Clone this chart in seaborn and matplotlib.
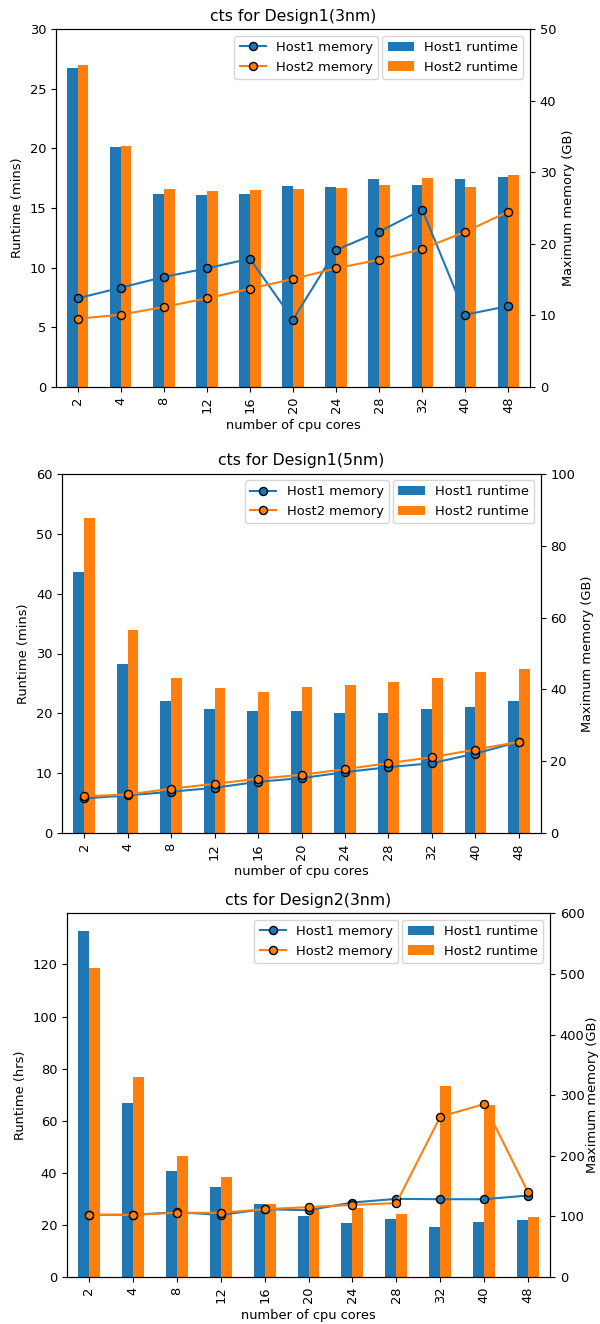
import matplotlib
matplotlib.use("Agg")
import matplotlib.pyplot as plt
import seaborn as sns
import pandas as pd
import numpy as np

cores = ["2", "4", "8", "12", "16", "20", "24", "28", "32", "40", "48"]

# Design1 (3nm)
d1_3_host1_runtime = [26.76, 20.10, 16.20, 16.12, 16.20, 16.85, 16.76, 17.41, 16.93, 17.41, 17.63]
d1_3_host2_runtime = [26.98, 20.18, 16.60, 16.43, 16.51, 16.60, 16.68, 16.93, 17.49, 16.76, 17.74]
d1_3_host1_memory = [12.36, 13.85, 15.35, 16.56, 17.91, 9.38, 19.12, 21.69, 24.77, 10.07, 11.29]
d1_3_host2_memory = [9.51, 10.07, 11.15, 12.36, 13.71, 15.07, 16.56, 17.77, 19.26, 21.69, 24.49]

# Design1 (5nm)
d1_5_host1_runtime = [43.65, 28.29, 22.13, 20.69, 20.35, 20.35, 20.02, 20.02, 20.69, 21.13, 22.13]
d1_5_host2_runtime = [52.69, 33.94, 25.85, 24.24, 23.57, 24.40, 24.74, 25.24, 25.85, 26.84, 27.45]
d1_5_host1_memory = [9.70, 10.54, 11.55, 12.66, 14.33, 15.34, 17.01, 18.39, 19.50, 22.18, 25.42]
d1_5_host2_memory = [10.26, 10.81, 12.38, 13.77, 15.16, 16.27, 17.84, 19.50, 21.16, 23.29, 25.42]

# Design2 (3nm)
d2_3_host1_runtime = [133.0, 67.0, 40.6, 34.6, 28.1, 23.6, 20.6, 22.1, 19.1, 21.1, 21.7]
d2_3_host2_runtime = [118.6, 76.7, 46.6, 38.3, 28.1, 26.0, 26.6, 24.0, 73.3, 66.1, 23.1]
d2_3_host1_memory = [102.6, 102.6, 106.9, 102.6, 111.9, 110.2, 122.9, 128.9, 128.3, 128.3, 134.4]
d2_3_host2_memory = [102.6, 102.6, 105.9, 105.9, 111.9, 115.2, 119.0, 121.8, 264.4, 285.2, 139.9]

titles = ["cts for Design1(3nm)", "cts for Design1(5nm)", "cts for Design2(3nm)"]
ylabels = ["Runtime (mins)", "Runtime (mins)", "Runtime (hrs)"]
left_lims = [(0, 30), (0, 60), None]
right_lims = [(0, 50), (0, 100), (0, 600)]

panels = [
    (d1_3_host1_runtime, d1_3_host2_runtime, d1_3_host1_memory, d1_3_host2_memory),
    (d1_5_host1_runtime, d1_5_host2_runtime, d1_5_host1_memory, d1_5_host2_memory),
    (d2_3_host1_runtime, d2_3_host2_runtime, d2_3_host1_memory, d2_3_host2_memory),
]

# axes boxes in pixels: left, top, right, bottom
boxes = [(56, 29.3, 530, 386.7), (62.3, 473.7, 540.7, 833.3), (67, 913.3, 550, 1277)]
right_labelpads = [4.0, 4.0, 1.0]

W, H = 600, 1324
plt.rcParams["font.size"] = 9.4
blue, orange = "#1f77b4", "#ff7f0e"

fig = plt.figure(figsize=(W / 100, H / 100), dpi=100)

for i, (h1r, h2r, h1m, h2m) in enumerate(panels):
    l, t, r, b = boxes[i]
    ax = fig.add_axes([l / W, 1 - b / H, (r - l) / W, (b - t) / H])
    df = pd.DataFrame({
        "cores": cores * 2,
        "runtime": list(h1r) + list(h2r),
        "series": ["Host1 runtime"] * len(cores) + ["Host2 runtime"] * len(cores),
    })
    sns.barplot(data=df, x="cores", y="runtime", hue="series", order=cores,
                palette=[blue, orange], saturation=1, width=0.5, errorbar=None,
                linewidth=0, ax=ax)
    if ax.get_legend() is not None:
        ax.get_legend().remove()
    ax.set_xlim(-0.5, len(cores) - 0.5)
    if left_lims[i] is not None:
        ax.set_ylim(*left_lims[i])
    ax.set_xlabel("number of cpu cores")
    ax.set_ylabel(ylabels[i])
    ax.set_title(titles[i], fontsize=11.3)
    ax.tick_params(axis="x", labelrotation=90)

    ax2 = ax.twinx()
    pos = np.arange(len(cores))
    sns.lineplot(x=pos, y=h1m, ax=ax2, color=blue, marker="o", markersize=5.8,
                 markeredgecolor="black", markeredgewidth=1.0, label="Host1 memory")
    sns.lineplot(x=pos, y=h2m, ax=ax2, color=orange, marker="o", markersize=5.8,
                 markeredgecolor="black", markeredgewidth=1.0, label="Host2 memory")
    ax2.set_ylim(*right_lims[i])
    ax2.set_xlim(-0.5, len(cores) - 0.5)
    ax2.set_ylabel("Maximum memory (GB)", labelpad=right_labelpads[i])

    leg_bar = ax.legend(loc="upper right")
    fig.canvas.draw()
    bb = leg_bar.get_window_extent()
    axbb = ax.get_window_extent()
    anchor_x = (bb.x0 - axbb.x0) / axbb.width
    ax2.legend(loc="upper right", bbox_to_anchor=(anchor_x + 0.005, 1.0))

fig.savefig("out.png", dpi=100)
